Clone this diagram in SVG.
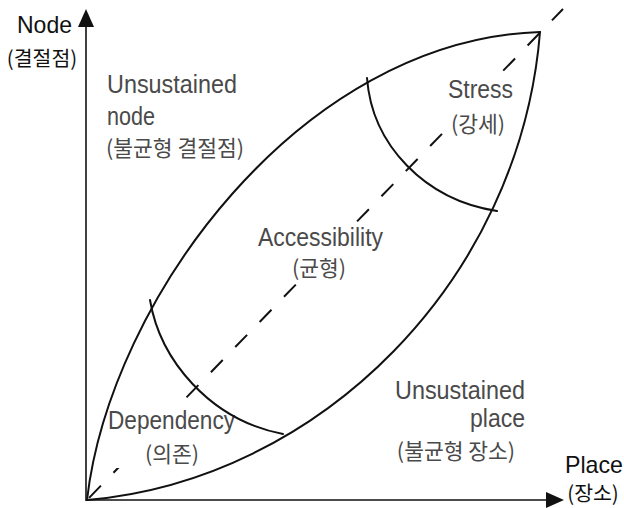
<svg xmlns="http://www.w3.org/2000/svg" width="624" height="508" viewBox="0 0 624 508">
<style>
.ln{fill:none;stroke:#111;stroke-width:2;stroke-linecap:round}
.ax{fill:none;stroke:#111;stroke-width:1.6}
.dash{fill:none;stroke:#111;stroke-width:2;stroke-dasharray:17 18;stroke-dashoffset:-3}
.bg{fill:#fff}
.lab{font-family:"Liberation Sans","Noto Sans",sans-serif;font-size:26px;fill:#4a4a4a}
.ko{font-family:"Noto Sans CJK KR","Noto Sans",sans-serif;font-size:21.5px;fill:#4a4a4a}
.axl{font-family:"Liberation Sans","Noto Sans",sans-serif;font-size:24px;fill:#111}
.axk{font-family:"Noto Sans CJK KR","Noto Sans",sans-serif;font-size:20.5px;fill:#111}
</style>
<rect width="624" height="508" fill="#fff"/>
<g id="diagonal">
  <line class="dash" x1="87" y1="500" x2="563" y2="9"/>
</g>
<g id="stress">
  <rect class="bg" x="446" y="77" width="70" height="61"/>
  <text class="lab" x="448" y="98" textLength="65" lengthAdjust="spacingAndGlyphs">Stress</text>
  <text class="ko" x="478" y="132" text-anchor="middle">(강세)</text>
</g>
<g id="accessibility">
  <rect class="bg" x="256" y="224" width="130" height="58"/>
  <text class="lab" x="258" y="246" textLength="125" lengthAdjust="spacingAndGlyphs">Accessibility</text>
  <text class="ko" x="319" y="276" text-anchor="middle">(균형)</text>
</g>
<g id="dependency">
  <rect class="bg" x="106" y="408" width="131" height="60"/>
  <text class="lab" x="108" y="429" textLength="127" lengthAdjust="spacingAndGlyphs">Dependency</text>
  <text class="ko" x="172" y="462" text-anchor="middle">(의존)</text>
</g>
<g id="connectors">
  <line class="ax" x1="86" y1="501" x2="86" y2="24"/>
  <polygon points="86,9 78,27 94,27" fill="#111"/>
  <line class="ax" x1="86" y1="500" x2="548" y2="500"/>
  <polygon points="564,500 546,492 546,508" fill="#111"/>
  <path class="ln" d="M87,500 C110,300 300,40 540,32"/>
  <path class="ln" d="M87,500 C320,480 520,280 540,32"/>
  <path class="ln" d="M150,300 C160,360 210,420 283,434"/>
  <path class="ln" d="M367,78 C372,145 425,200 497,211"/>
</g>
<g id="axis-node">
  <text class="axl" x="17" y="33" textLength="55" lengthAdjust="spacingAndGlyphs">Node</text>
  <text class="axk" x="42" y="66" text-anchor="middle">(결절점)</text>
</g>
<g id="axis-place">
  <text class="axl" x="565" y="473" textLength="58" lengthAdjust="spacingAndGlyphs">Place</text>
  <text class="axk" x="593" y="501" text-anchor="middle">(장소)</text>
</g>
<g id="unsustained-node">
  <text class="lab" x="107" y="93" textLength="130" lengthAdjust="spacingAndGlyphs">Unsustained</text>
  <text class="lab" x="107" y="125" textLength="48" lengthAdjust="spacingAndGlyphs">node</text>
  <text class="ko" x="106" y="156">(불균형 결절점)</text>
</g>
<g id="unsustained-place">
  <text class="lab" x="395" y="399" textLength="130" lengthAdjust="spacingAndGlyphs">Unsustained</text>
  <text class="lab" x="470" y="427" textLength="55" lengthAdjust="spacingAndGlyphs">place</text>
  <text class="ko" x="456" y="459" text-anchor="middle">(불균형 장소)</text>
</g>
</svg>
